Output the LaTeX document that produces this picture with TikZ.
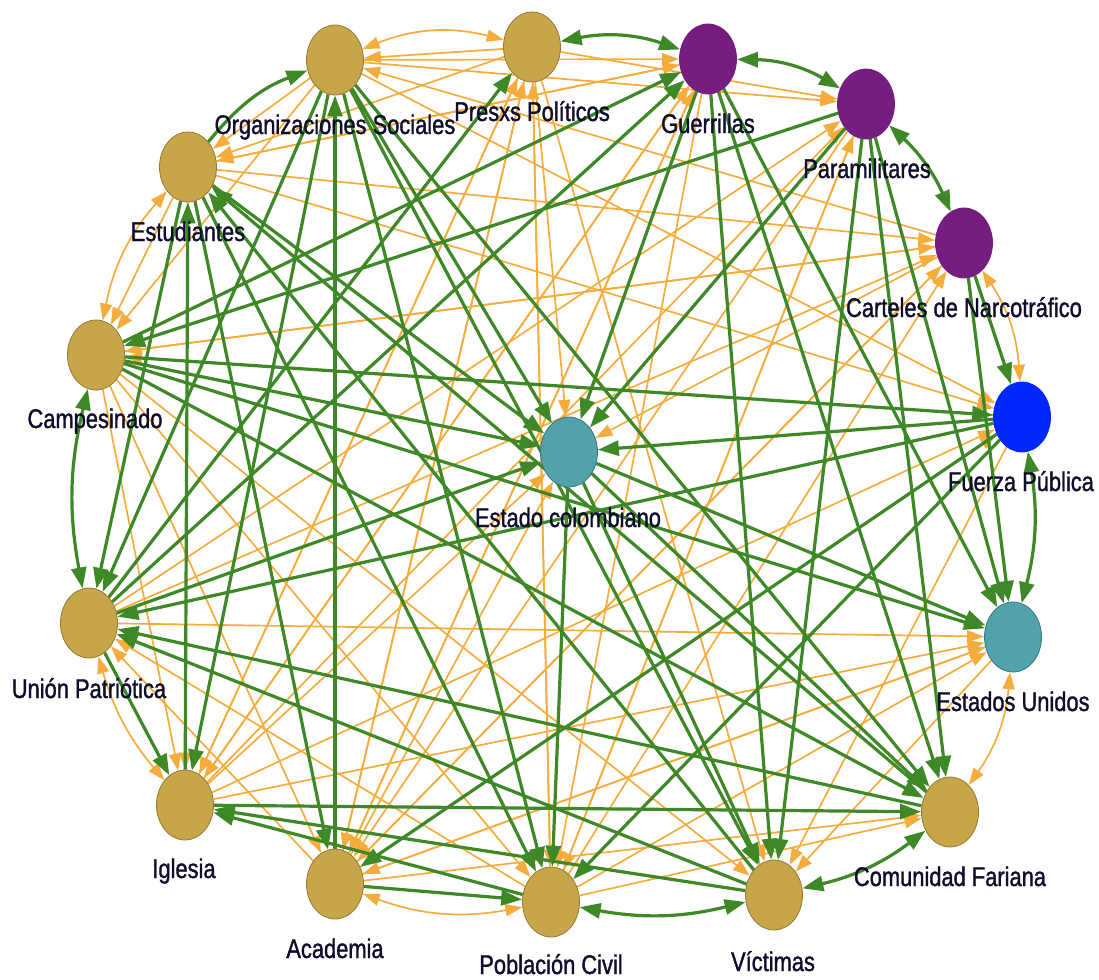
\documentclass[tikz,border=0pt]{standalone}
\usepackage{fontspec}
\newfontfamily\lblfont[FakeStretch=0.81,FakeBold=1.3]{Liberation Sans}
\usetikzlibrary{arrows.meta,shapes.geometric,backgrounds}
\definecolor{gold}{RGB}{199,166,74}
\definecolor{goldb}{RGB}{150,120,50}
\definecolor{purp}{RGB}{118,30,128}
\definecolor{blu}{RGB}{0,40,250}
\definecolor{tealn}{RGB}{82,162,170}
\definecolor{tealb}{RGB}{50,120,130}
\definecolor{grn}{RGB}{62,136,40}
\definecolor{org}{RGB}{245,172,60}
\definecolor{txt}{RGB}{14,14,44}
\tikzset{
  actor/.style={ellipse, minimum width=57pt, minimum height=70pt, inner sep=0pt, line width=0.8pt},
  gn/.style={actor, fill=gold, draw=goldb},
  pn/.style={actor, fill=purp, draw=purp},
  bn/.style={actor, fill=blu, draw=blu},
  tn/.style={actor, fill=tealn, draw=tealb},
  lbl/.style={font=\lblfont\fontsize{27}{27}\selectfont, text=txt, inner sep=0pt, anchor=base},
  gtip/.tip={Triangle[length=21pt,width=15pt]},
  otip/.tip={Triangle[length=17pt,width=12pt]},
  ge/.style={draw=grn, line width=3.2pt, -gtip},
  ge2/.style={draw=grn, line width=3.2pt, gtip-gtip},
  oe/.style={draw=org, line width=1.7pt, -otip},
  oe2/.style={draw=org, line width=1.7pt, otip-otip},
}
\begin{document}
\begin{tikzpicture}[x=1pt,y=-1pt]
\useasboundingbox (0,0) rectangle (1099,979);
% nodes
\node[gn] (os) at (335,60) {};
\node[gn] (pp) at (532,47) {};
\node[pn] (gu) at (708,59) {};
\node[pn] (pa) at (866,104) {};
\node[pn] (cn) at (964,243) {};
\node[bn] (fp) at (1022,417) {};
\node[tn] (eu) at (1013,637) {};
\node[gn] (cf) at (950,812) {};
\node[gn] (vi) at (774,895) {};
\node[gn] (pc) at (551,902) {};
\node[gn] (ac) at (335,884) {};
\node[gn] (ig) at (185,805) {};
\node[gn] (up) at (89,623) {};
\node[gn] (ca) at (96,355) {};
\node[gn] (es) at (188,167) {};
\node[tn] (ec) at (569,452) {};
\begin{pgfonlayer}{background}
% ---------- orange edges ----------
\draw[oe2,bend left=18] (os) to (pp);
\draw[oe2,bend left=15] (cn) to (fp);
\draw[oe2,bend left=15] (eu) to (cf);
\draw[oe2,bend left=15] (pc) to (ac);
\draw[oe2,bend left=15] (ca) to (es);
\draw[oe2,bend left=12] (ig) to (up);
\draw[oe] (pp) to (os);
\draw[oe] (os) to (es);
\draw[oe] (gu) to (es);
\draw[oe] (pp) to (es);
\draw[oe] (es) to (ca);
\draw[oe] (os) to (ca);
\draw[oe] (ac) to (up);
\draw[oe] (pc) to (up);
\draw[oe] (es) to (gu);
\draw[oe] (os) to (gu);
\draw[oe] (os) to (pa);
\draw[oe] (pp) to (pa);
\draw[oe] (es) to (cn);
\draw[oe] (ca) to (cn);
\draw[oe] (ac) to (cn);
\draw[oe] (pc) to (cn);
\draw[oe] (up) to (cn);
\draw[oe] (os) to (fp);
\draw[oe] (es) to (fp);
\draw[oe] (ig) to (fp);
\draw[oe] (ac) to (fp);
\draw[oe] (up) to (eu);
\draw[oe] (ig) to (eu);
\draw[oe] (ac) to (eu);
\draw[oe] (pc) to (eu);
\draw[oe] (ac) to (cf);
\draw[oe] (pc) to (cf);
\draw[oe] (pp) to (vi);
\draw[oe] (ca) to (vi);
\draw[oe] (fp) to (vi);
\draw[oe] (eu) to (vi);
\draw[oe] (pp) to (pc);
\draw[oe] (ca) to (pc);
\draw[oe] (gu) to (pc);
\draw[oe] (pa) to (pc);
\draw[oe] (ca) to (ac);
\draw[oe] (pp) to (ac);
\draw[oe] (gu) to (ac);
\draw[oe] (pa) to (ac);
\draw[oe] (cn) to (ac);
\draw[oe] (eu) to (ac);
\draw[oe] (ca) to (ig);
\draw[oe] (es) to (ig);
\draw[oe] (pp) to (ig);
\draw[oe] (gu) to (ig);
\draw[oe] (cn) to (ca);
\draw[oe] (fp) to (ca);
\draw[oe] (pp) to (ec);
\draw[oe] (cn) to (ec);
\draw[oe] (ig) to (ec);
\draw[oe] (ac) to (ec);
\draw[oe] (ig) to (pp);
\draw[oe] (ac) to (pp);
\draw[oe] (pc) to (pp);
\draw[oe] (ig) to (gu);
\draw[oe] (ac) to (gu);
\draw[oe] (ig) to (pa);
\draw[oe] (pc) to (pa);
\draw[oe] (up) to (pa);
\draw[oe] (cn) to (os);
% ---------- green edges ----------
\draw[ge,bend left=15] (es) to (os);
\draw[ge2,bend left=15] (pp) to (gu);
\draw[ge2,bend left=15] (gu) to (pa);
\draw[ge2,bend left=12] (pa) to (cn);
\draw[ge] (cn) to (fp);
\draw[ge2,bend left=12] (fp) to (eu);
\draw[ge2,bend left=12] (cf) to (vi);
\draw[ge2,bend left=12] (vi) to (pc);
\draw[ge] (ac) to (pc);
\draw[ge2,bend left=12] (up) to (ca);
\draw[ge] (up) to (ig);
\draw[ge] (os) to (ec);
\draw[ge] (os) to (vi);
\draw[ge] (os) to (ig);
\draw[ge] (ac) to (os);
\draw[ge] (os) to (pc);
\draw[ge] (os) to (up);
\draw[ge] (os) to (cf);
\draw[ge] (es) to (ec);
\draw[ge] (ig) to (es);
\draw[ge] (es) to (ac);
\draw[ge] (vi) to (es);
\draw[ge] (cf) to (es);
\draw[ge] (es) to (up);
\draw[ge] (es) to (pc);
\draw[ge] (up) to (pp);
\draw[ge] (up) to (gu);
\draw[ge] (ca) to (gu);
\draw[ge] (pa) to (ca);
\draw[ge] (ca) to (ec);
\draw[ge] (ca) to (fp);
\draw[ge] (ca) to (eu);
\draw[ge] (ca) to (cf);
\draw[ge] (gu) to (ec);
\draw[ge] (pa) to (ec);
\draw[ge] (gu) to (eu);
\draw[ge] (gu) to (cf);
\draw[ge] (gu) to (vi);
\draw[ge] (pa) to (vi);
\draw[ge] (pa) to (eu);
\draw[ge] (pa) to (cf);
\draw[ge] (cn) to (eu);
\draw[ge] (fp) to (ec);
\draw[ge] (fp) to (up);
\draw[ge] (fp) to (pc);
\draw[ge] (fp) to (ac);
\draw[ge] (ec) to (eu);
\draw[ge] (ec) to (vi);
\draw[ge] (ec) to (cf);
\draw[ge] (ec) to (pc);
\draw[ge] (up) to (ec);
\draw[ge] (cf) to (up);
\draw[ge] (vi) to (up);
\draw[ge] (pc) to (ig);
\draw[ge] (vi) to (ig);
\draw[ge] (ig) to (cf);
\end{pgfonlayer}
% labels
\node[lbl] (los) at (335,134) {Organizaciones Sociales};
\node[lbl] (lpp) at (532,121) {Presxs Políticos};
\node[lbl] (lgu) at (708,133) {Guerrillas};
\node[lbl] (lpa) at (867,178) {Paramilitares};
\node[lbl] (lcn) at (964,317) {Carteles de Narcotráfico};
\node[lbl] (lfp) at (1021,491) {Fuerza Pública};
\node[lbl] (leu) at (1013,711) {Estados Unidos};
\node[lbl] (lcf) at (950,886) {Comunidad Fariana};
\node[lbl] (lvi) at (773,971) {Víctimas};
\node[lbl] (lpc) at (551,974) {Población Civil};
\node[lbl] (lac) at (335,958) {Academia};
\node[lbl] (lig) at (184,878) {Iglesia};
\node[lbl] (lup) at (89,698) {Unión Patriótica};
\node[lbl] (lca) at (95,428) {Campesinado};
\node[lbl] (les) at (188,241) {Estudiantes};
\node[lbl] (lec) at (568,527) {Estado colombiano};
\end{tikzpicture}
\end{document}
